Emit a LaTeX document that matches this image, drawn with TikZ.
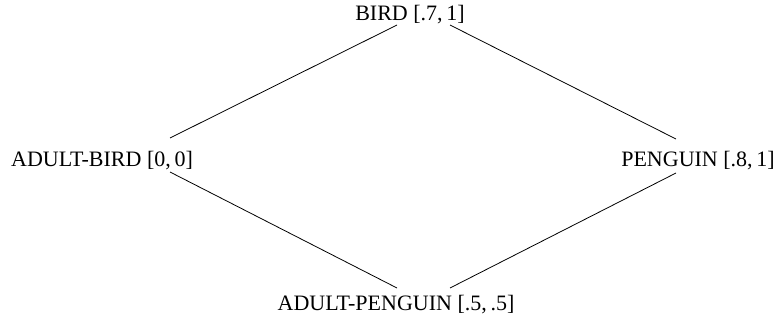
\documentclass[tikz,border=0pt]{standalone}
\usepackage{fontspec}
\setmainfont{Liberation Serif}
\begin{document}
\begin{tikzpicture}[x=1pt,y=-1pt,
  lbl/.style={anchor=base,inner sep=0pt,font=\fontsize{22}{26}\selectfont},
  edge/.style={line width=0.8pt}]
\useasboundingbox (0,0) rectangle (779,324);
\node[lbl] (bird) at (410,20) {BIRD [.7,\,1]};
\node[lbl] (abird) at (102,166) {ADULT-BIRD [0,\,0]};
\node[lbl] (peng) at (698,166) {PENGUIN [.8,\,1]};
\node[lbl] (apeng) at (396,310) {ADULT-PENGUIN [.5,\,.5]};
\coordinate (b1) at (397,25);
\coordinate (b2) at (450,25);
\coordinate (ab1) at (170,138);
\coordinate (ab2) at (170,172);
\coordinate (p1) at (676,139);
\coordinate (p2) at (676,173);
\coordinate (ap1) at (397,288);
\coordinate (ap2) at (450,288);
\draw[edge] (b1) -- (ab1);
\draw[edge] (b2) -- (p1);
\draw[edge] (ab2) -- (ap1);
\draw[edge] (p2) -- (ap2);
\end{tikzpicture}
\end{document}
